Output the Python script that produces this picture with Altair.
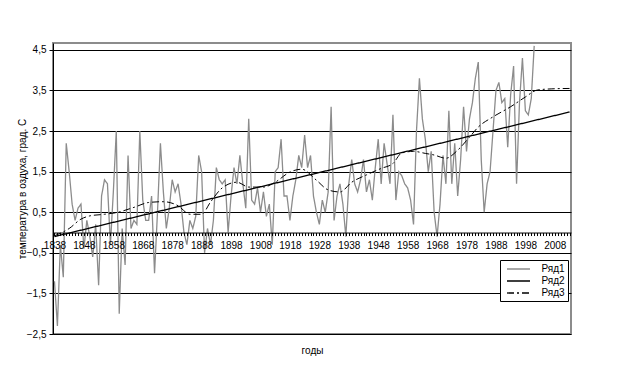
import altair as alt
import pandas as pd

# ---- data ----
years1 = list(range(1838, 2002))
temps = [
    -1.2, -2.3, -0.3, -1.1, 2.2, 1.5, 0.7, 0.3, 0.6, 0.7,   # 1838-1847
    -0.4, 0.3, -0.1, -0.6, 0.2, -1.3, 0.9, 1.3, 1.2, -0.3,  # 1848-1857
    1.0, 2.5, -2.0, 0.1, -0.8, 1.9, 0.1, 0.3, 0.2, 2.5,     # 1858-1867
    0.8, 0.3, 0.3, 0.9, -1.0, 0.5, 2.2, 1.0, 0.1, 0.6,      # 1868-1877
    1.3, 1.0, 1.2, 0.7, 0.0, -0.3, 0.3, 0.1, 0.4, 1.9,      # 1878-1887
    1.5, -0.5, 0.1, -0.3, 0.3, 1.6, 1.3, 1.2, 1.3, 0.0,     # 1888-1897
    0.9, 1.6, 1.2, 1.9, 1.2, 0.6, 2.8, 0.8, 0.7, 1.1,       # 1898-1907
    0.5, 1.0, 0.4, 0.7, -0.3, 1.5, 1.6, 2.3, 0.9, 0.9,      # 1908-1917
    0.3, 0.9, 1.3, 1.9, 1.6, 2.4, 1.6, 1.9, 0.9, 0.5,       # 1918-1927
    0.2, 0.8, 0.5, 1.0, 3.1, 0.3, 0.9, 1.2, 0.7, -0.1,      # 1928-1937
    1.2, 1.8, 1.2, 1.0, 1.3, 1.8, 1.0, 1.3, 0.8, 1.6,       # 1938-1947
    2.3, 1.2, 2.2, 1.7, 1.2, 2.9, 0.8, 1.5, 1.4, 1.2,       # 1948-1957
    1.1, 0.8, 0.2, 2.5, 3.8, 2.8, 2.3, 1.5, 2.0, 0.5,       # 1958-1967
    -0.1, 0.7, 1.9, 1.2, 3.0, 1.2, 2.2, 0.9, 1.8, 3.1,      # 1968-1977
    2.0, 2.8, 3.2, 3.8, 4.2, 1.8, 0.5, 1.2, 1.5, 2.5,       # 1978-1987
    3.5, 3.7, 3.2, 3.3, 2.1, 3.4, 4.1, 1.2, 3.2, 4.3,       # 1988-1997
    3.0, 2.9, 3.3, 4.6,                                     # 1998-2001
]
trend_years = [1838, 2013]
trend_vals = [-0.1, 2.97]
smooth_years = [1838, 1843, 1847, 1850, 1855, 1859, 1865, 1870, 1875, 1880,
                1884, 1888, 1891, 1895, 1900, 1904, 1909, 1913, 1918, 1922,
                1927, 1931, 1935, 1939, 1944, 1949, 1953, 1956, 1960, 1964,
                1967, 1971, 1975, 1979, 1982, 1987, 1993, 1998, 2002, 2007, 2013]
smooth_vals = [-0.08, 0.1, 0.33, 0.41, 0.45, 0.49, 0.62, 0.74, 0.76, 0.66,
               0.45, 0.45, 0.75, 1.1, 1.24, 1.12, 1.12, 1.24, 1.49, 1.56,
               1.29, 1.05, 1.0, 1.24, 1.42, 1.58, 1.7, 1.96, 2.0, 1.95,
               1.91, 1.83, 2.03, 2.35, 2.6, 2.85, 3.1, 3.34, 3.51, 3.54, 3.55]
x_label_years = list(range(1838, 2009, 10))
y_ticks = [-2.5, -1.5, -0.5, 0.5, 1.5, 2.5, 3.5, 4.5]
names = ["Ряд1", "Ряд2", "Ряд3"]
colors = ["#8c8c8c", "#000000", "#000000"]

# ---- layout ----
W, H = 518, 291
YMIN, YMAX = -2.5, 4.67
XMIN, XMAX = 1837.5, 2013.5
zero_y = H * YMAX / (YMAX - YMIN)
x_axis_offset = -(H - zero_y)
FONT = "Liberation Sans"

df1 = pd.DataFrame({"year": years1, "value": temps, "series": names[0]})
df2 = pd.DataFrame({"year": trend_years, "value": trend_vals, "series": names[1]})
df3 = pd.DataFrame({"year": smooth_years, "value": smooth_vals, "series": names[2]})

label_set = ",".join(str(v) for v in x_label_years)
x_enc = alt.X(
    "year:Q",
    scale=alt.Scale(domain=[XMIN, XMAX], nice=False, zero=False),
    axis=alt.Axis(
        values=list(range(1838, 2014)),
        labelExpr="indexof([" + label_set + "], datum.value) >= 0 ? '' + datum.value : ''",
        labelOverlap=False, labelFlush=False, labelBound=False,
        grid=False, offset=x_axis_offset, tickSize=3, tickColor="black",
        domainColor="black", domainWidth=1, labelFontSize=10, labelPadding=5,
        labelColor="black", labelFont=FONT, zindex=1,
        title="годы", titleFont=FONT, titleFontSize=10, titleFontWeight="normal",
        titleX=W / 2, titleY=118, titleBaseline="middle", titleColor="black",
    ),
)
y_enc = alt.Y(
    "value:Q",
    scale=alt.Scale(domain=[YMIN, YMAX], nice=False, zero=False),
    axis=alt.Axis(
        values=y_ticks,
        labelExpr="replace(format(datum.value, '.1f'), '.', ',')",
        grid=True, gridColor="black", gridWidth=1, gridOpacity=1,
        tickSize=4, tickColor="black", domainColor="black", domainWidth=1,
        labelFontSize=10, labelFont=FONT, labelColor="black", labelPadding=3,
        title="температура в оздуха, град. С", titleFont=FONT, titleFontSize=10,
        titleFontWeight="normal", titleColor="black", titleAngle=-90,
        titleX=-31, titleY=H / 2, titleAlign="center", titleBaseline="middle",
    ),
)

legend_opts = dict(
    title=None, orient="none", legendX=447, legendY=217,
    strokeColor="black", fillColor="white", padding=3,
    labelFont=FONT, labelFontSize=10, labelColor="black",
    symbolType="M-2.3,0H2.3", symbolSize=100, symbolStrokeWidth=1.3,
    symbolOffset=9.5, labelOffset=17, rowPadding=1,
)
color_enc = alt.Color(
    "series:N",
    scale=alt.Scale(domain=names, range=colors),
    legend=alt.Legend(**legend_opts),
)
dash_enc = alt.StrokeDash(
    "series:N",
    scale=alt.Scale(domain=names, range=[[1, 0], [1, 0], [7, 3, 2, 3]]),
    legend=alt.Legend(**legend_opts),
)

l1 = alt.Chart(df1).mark_line(strokeWidth=1.3).encode(x=x_enc, y=y_enc, color=color_enc, strokeDash=dash_enc)
l2 = alt.Chart(df2).mark_line(strokeWidth=1.3).encode(x=x_enc, y=y_enc, color=color_enc, strokeDash=dash_enc)
l3 = alt.Chart(df3).mark_line(strokeWidth=1, interpolate="monotone").encode(x=x_enc, y=y_enc, color=color_enc, strokeDash=dash_enc)

chart = (
    alt.layer(l1, l2, l3)
    .properties(
        width=W, height=H,
        padding={"left": 45, "top": 35, "right": 45, "bottom": 40},
        autosize=alt.AutoSizeParams(type="none"),
        background="white",
    )
    .configure_view(stroke="#8c8c8c", strokeWidth=2)
)

chart.save("out.html", embed_options={"renderer": "svg", "actions": False})
